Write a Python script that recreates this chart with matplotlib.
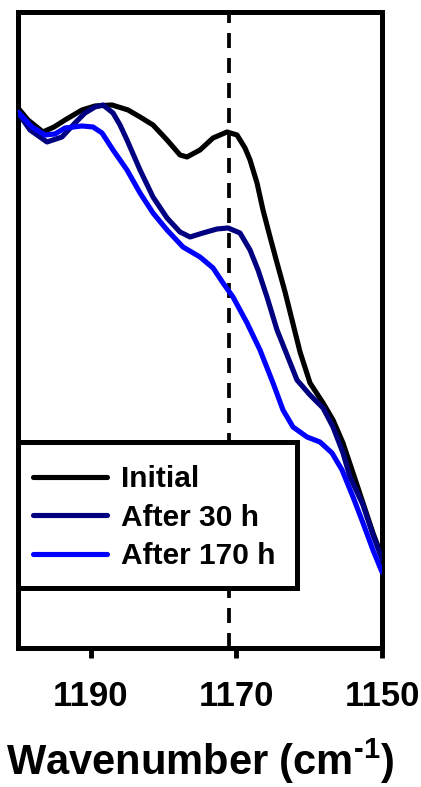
import matplotlib
matplotlib.use("Agg")
import matplotlib.pyplot as plt
from matplotlib.patches import Rectangle

plt.rcParams["font.family"] = ["Liberation Sans", "DejaVu Sans"]
plt.rcParams["font.weight"] = "bold"
plt.rcParams["mathtext.fontset"] = "custom"
plt.rcParams["mathtext.rm"] = "Liberation Sans:bold"
plt.rcParams["mathtext.bf"] = "Liberation Sans:bold"
plt.rcParams["mathtext.default"] = "bf"

# FTIR absorbance spectra (arbitrary units) in the 1200-1150 cm-1 region
wn_initial = [1200.00, 1198.63, 1196.57, 1195.05, 1193.54, 1191.21, 1189.42, 1187.09,
              1184.89, 1183.24, 1181.46, 1179.53, 1177.75, 1176.79, 1175.00, 1173.21,
              1171.29, 1169.92, 1168.82, 1168.13, 1167.17, 1166.35, 1165.38, 1164.42,
              1163.32, 1162.36, 1161.26, 1159.89, 1158.10, 1156.73, 1155.36, 1153.98,
              1152.61, 1151.24, 1150.00]
abs_initial = [0.592, 0.580, 0.568, 0.573, 0.580, 0.590, 0.594, 0.595,
               0.590, 0.583, 0.575, 0.560, 0.545, 0.543, 0.550, 0.562,
               0.568, 0.565, 0.552, 0.540, 0.517, 0.490, 0.463, 0.437,
               0.408, 0.380, 0.348, 0.317, 0.297, 0.280, 0.257, 0.227,
               0.197, 0.167, 0.143]

wn_30h = [1200.00, 1198.35, 1196.02, 1193.96, 1192.17, 1190.80, 1189.42, 1188.32,
          1186.95, 1185.99, 1185.03, 1183.24, 1181.46, 1179.53, 1177.75, 1176.37,
          1174.59, 1172.66, 1171.15, 1169.51, 1168.13, 1167.03, 1165.80, 1164.42,
          1163.32, 1161.68, 1159.89, 1158.10, 1156.73, 1155.36, 1154.40, 1152.61,
          1151.24, 1150.00]
abs_30h = [0.587, 0.570, 0.558, 0.563, 0.577, 0.587, 0.593, 0.595,
           0.587, 0.575, 0.560, 0.530, 0.503, 0.482, 0.468, 0.463,
           0.467, 0.471, 0.472, 0.467, 0.450, 0.430, 0.403, 0.370,
           0.350, 0.320, 0.305, 0.292, 0.273, 0.247, 0.223, 0.195,
           0.165, 0.141]

wn_170h = [1200.00, 1198.08, 1196.29, 1194.92, 1193.54, 1191.21, 1189.70, 1188.46,
           1186.95, 1185.03, 1183.24, 1181.46, 1179.53, 1177.34, 1175.00, 1173.21,
           1171.84, 1170.47, 1168.54, 1166.76, 1164.97, 1163.60, 1162.23, 1160.30,
           1158.52, 1156.87, 1155.49, 1153.98, 1152.61, 1151.24, 1150.00]
abs_170h = [0.588, 0.573, 0.565, 0.566, 0.572, 0.574, 0.573, 0.567,
            0.550, 0.530, 0.507, 0.487, 0.470, 0.453, 0.443, 0.432,
            0.417, 0.403, 0.377, 0.350, 0.317, 0.290, 0.273, 0.263,
            0.258, 0.247, 0.230, 0.203, 0.177, 0.150, 0.128]

series_labels = ["Initial", "After 30 h", "After 170 h"]
series_colors = ["#000000", "#000080", "#0000FF"]
marker_wn = 1171
x_ticks = [1190, 1170, 1150]

fig = plt.figure(figsize=(4.21, 7.87), dpi=100)
ax = fig.add_axes([0.0428, 0.1766, 0.8646, 0.8082])

for wn, ab, lab, col in zip([wn_initial, wn_30h, wn_170h],
                            [abs_initial, abs_30h, abs_170h],
                            series_labels, series_colors):
    ax.plot(wn, ab, color=col, lw=3.7, label=lab, solid_capstyle="round",
            solid_joinstyle="round", zorder=3)

lw_dash = 2.7
ax.axvline(marker_wn, color="black", lw=lw_dash,
           linestyle=(0, (10.8 / lw_dash, 7.2 / lw_dash)), zorder=2)

ax.set_xlim(1200, 1150)
ax.set_ylim(0.052, 0.688)
ax.set_xticks(x_ticks)
ax.set_yticks([])
ax.tick_params(axis="x", direction="out", length=7, width=3.5, pad=16,
               labelsize=25)
for lbl in ax.get_xticklabels():
    lbl.set_fontweight("bold")
for sp in ax.spines.values():
    sp.set_linewidth(3.6)

ax.set_xlabel("Wavenumber (cm$^{\\text{-1}}$)", fontsize=30, fontweight="bold",
              labelpad=17)

# legend box
ax.add_patch(Rectangle((0.0, 0.094), 0.766, 0.230, transform=ax.transAxes,
                       facecolor="white", edgecolor="black", lw=3.6,
                       zorder=4, clip_on=False))
leg = ax.legend(loc="upper left", bbox_to_anchor=(0.041, 0.287),
                borderaxespad=0, borderpad=0, frameon=False,
                handlelength=2.47, handletextpad=0.47, labelspacing=0.35,
                prop={"weight": "bold", "size": 21.5})
for h in leg.get_lines():
    h.set_linewidth(3.7)
leg.set_zorder(5)

fig.savefig("out.png", dpi=100)
